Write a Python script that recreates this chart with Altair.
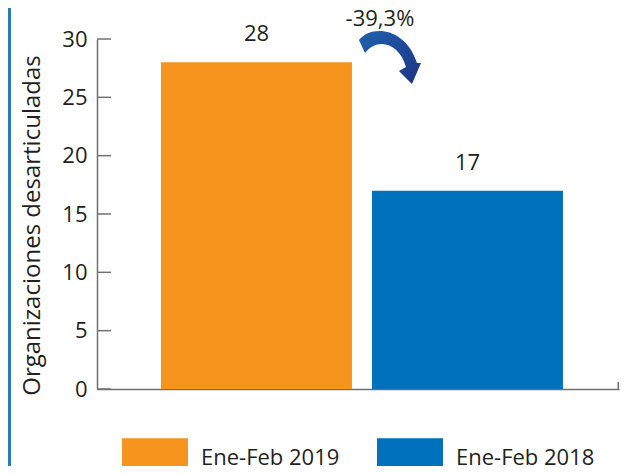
import altair as alt
import pandas as pd

categories = ["Ene-Feb 2019", "Ene-Feb 2018"]
values = [28, 17]
bar_colors = ["#F7941D", "#0071BC"]
y_ticks = [0, 5, 10, 15, 20, 25, 30]

change = (values[1] - values[0]) / values[0] * 100
change_label = f"{change:.1f}".replace(".", ",") + "%"

df = pd.DataFrame({"periodo": categories, "valor": values})
ticks_df = pd.DataFrame({"valor": y_ticks})
one = pd.DataFrame({"a": [0]})

FONT = "Open Sans"
FS = 22
TXT = "#231f20"
AX = "#707070"
W, H = 522, 350

yscale = alt.Scale(domain=[0, 30], nice=False)
xscale = alt.Scale(domain=categories, paddingInner=0.0948, paddingOuter=0.2844, align=0.533)

x = alt.X("periodo:N", sort=categories, scale=xscale,
          axis=alt.Axis(labels=False, ticks=False, title=None,
                        domainColor=AX, domainWidth=1.5))
y = alt.Y("valor:Q", scale=yscale,
          axis=alt.Axis(values=y_ticks, ticks=False, labelPadding=10,
                        labelFontSize=FS, labelFont=FONT, labelColor=TXT,
                        domainColor=AX, domainWidth=1.5, grid=False,
                        title="Organizaciones desarticuladas",
                        titleFontSize=24, titleFont=FONT, titleColor=TXT,
                        titleFontWeight="normal", titleX=-65, titleY=186,
                        titleAngle=270, titleBaseline="middle", titleAlign="center"))

color = alt.Color("periodo:N", sort=categories,
                  scale=alt.Scale(domain=categories, range=bar_colors),
                  legend=alt.Legend(title=None, orient="none", legendX=25, legendY=386,
                                    direction="horizontal",
                                    symbolType="M-1,-0.6H1V0.6H-1Z", symbolSize=4356,
                                    symbolStrokeWidth=0, symbolOpacity=1,
                                    labelFontSize=FS, labelFont=FONT, labelColor=TXT,
                                    labelOffset=13, columnPadding=37, padding=0))

bars = alt.Chart(df).mark_bar().encode(x=x, y=y, color=color)

labels = alt.Chart(df).mark_text(dy=-21, baseline="alphabetic", fontSize=FS,
                                 font=FONT, color=TXT).encode(
    x=x, y=y, text="valor:Q")

ticks = alt.Chart(ticks_df).mark_rule(color=AX, strokeWidth=1.5).encode(
    y=y, x=alt.value(0), x2=alt.value(14))

end_tick = alt.Chart(one).mark_rule(color=AX, strokeWidth=1.5).encode(
    x=alt.value(W - 0.75), y=alt.value(H), y2=alt.value(H - 7))

border = alt.Chart(one).mark_rule(color="#2a7ab8", strokeWidth=3).encode(
    x=alt.value(-87.5), y=alt.value(-40), y2=alt.value(H + 120))

ARROW = ("M-0.62,-0.36 C-0.36,-0.68 0.32,-0.6 0.54,0.1 L0.62,0.1 L0.44,0.52 "
         "L0.18,0.26 L0.32,0.18 C0.2,-0.28 -0.24,-0.44 -0.5,-0.1 Z")
arrow_df = pd.DataFrame({"periodo": [categories[0]], "valor": [28.37]})
arrow = alt.Chart(arrow_df).mark_point(
    shape=ARROW, size=10000, filled=True, opacity=1, strokeWidth=0,
    xOffset=133.5,
    fill=alt.Gradient(gradient="linear", x1=0, y1=0, x2=1, y2=1,
                      stops=[alt.GradientStop(offset=0, color="#1f62ad"),
                             alt.GradientStop(offset=1, color="#1d3383")])).encode(
    x=x, y=y)

ann_df = pd.DataFrame({"periodo": [categories[0]], "valor": [31.1]})
ann = alt.Chart(ann_df).mark_text(text=change_label, dx=123.5, baseline="alphabetic",
                                  fontSize=FS, font=FONT, color=TXT).encode(
    x=x, y=y)

chart = alt.layer(bars, labels, ticks, end_tick, border, arrow, ann).properties(
    width=W, height=H,
    autosize=alt.AutoSizeParams(type="none"),
    padding={"left": 89, "top": 31, "right": 2, "bottom": 77},
).configure_view(stroke=None)

chart.save("out.html", embed_options={"renderer": "svg", "actions": False})
